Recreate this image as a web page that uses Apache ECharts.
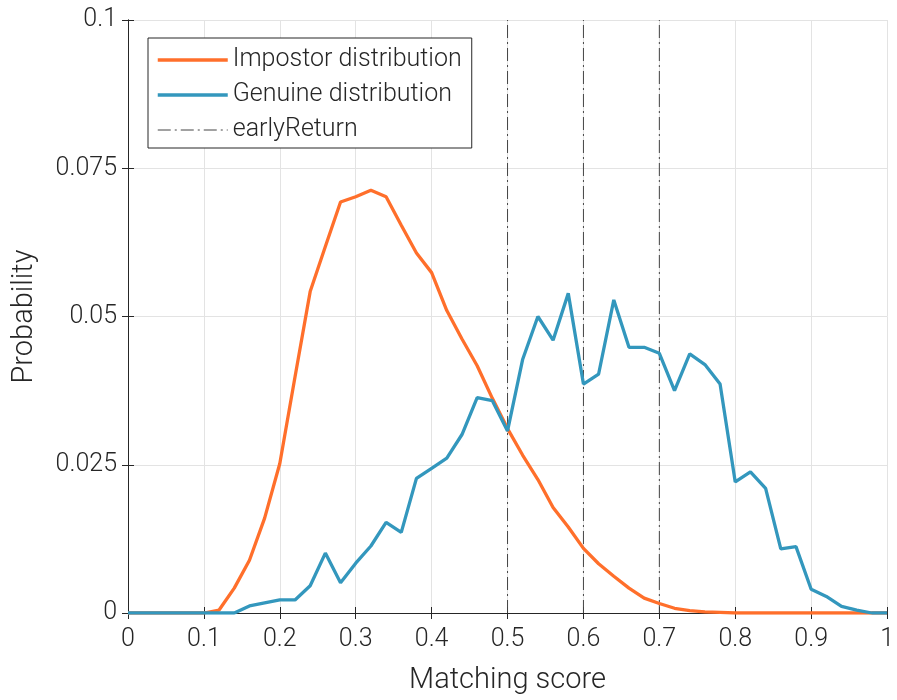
<!DOCTYPE html>
<html>
<head>
<meta charset="utf-8">
<script src="https://cdn.jsdelivr.net/npm/echarts@6/dist/echarts.min.js"></script>
<style>
  html, body { margin: 0; padding: 0; background: #fff; }
  #chart { width: 897px; height: 700px; }
</style>
</head>
<body>
<div id="chart"></div>
<script>
// Matching score bins (step 0.02)
const scores = [
  0, 0.02, 0.04, 0.06, 0.08, 0.10, 0.12, 0.14, 0.16, 0.18,
  0.20, 0.22, 0.24, 0.26, 0.28, 0.30, 0.32, 0.34, 0.36, 0.38,
  0.40, 0.42, 0.44, 0.46, 0.48, 0.50, 0.52, 0.54, 0.56, 0.58,
  0.60, 0.62, 0.64, 0.66, 0.68, 0.70, 0.72, 0.74, 0.76, 0.78,
  0.80, 0.82, 0.84, 0.86, 0.88, 0.90, 0.92, 0.94, 0.96, 0.98, 1.00
];

const impostor = [
  0, 0, 0, 0, 0, 0, 0.0005, 0.0042, 0.0089, 0.0160,
  0.0252, 0.0398, 0.0542, 0.0618, 0.0693, 0.0702, 0.0713, 0.0702, 0.0654, 0.0607,
  0.0574, 0.0510, 0.0462, 0.0417, 0.0362, 0.0311, 0.0266, 0.0225, 0.0178, 0.0145,
  0.0109, 0.0083, 0.0062, 0.0042, 0.0025, 0.0016, 0.0008, 0.0004, 0.0002, 0.0001,
  0, 0, 0, 0, 0, 0, 0, 0, 0, 0, 0
];

const genuine = [
  0, 0, 0, 0, 0, 0, 0, 0, 0.0012, 0.0017,
  0.0022, 0.0022, 0.0046, 0.0101, 0.0051, 0.0084, 0.0113, 0.0153, 0.0136, 0.0227,
  0.0244, 0.0261, 0.0301, 0.0363, 0.0358, 0.0307, 0.0428, 0.0500, 0.0460, 0.0539,
  0.0386, 0.0403, 0.0528, 0.0448, 0.0448, 0.0438, 0.0375, 0.0437, 0.0419, 0.0386,
  0.0221, 0.0238, 0.0210, 0.0108, 0.0112, 0.0040, 0.0028, 0.0011, 0.0005, 0, 0
];

// Early-return thresholds
const earlyReturn = [0.5, 0.6, 0.7];

const xTicks = [0, 0.1, 0.2, 0.3, 0.4, 0.5, 0.6, 0.7, 0.8, 0.9, 1];
const yTicks = [0, 0.025, 0.05, 0.075, 0.1];

const FONT = 'Roboto, "DejaVu Sans", sans-serif';
const INK = '#262626';
const ORANGE = '#ff6f2b';
const BLUE = '#3397bd';
const DASH_GREY = '#444';
const DASH_DOT = [13, 4, 2, 4];

const pairs = (xs, ys) => xs.map((x, i) => [x, ys[i]]);

// vertical segments separated by gaps
const thresholdData = [];
earlyReturn.forEach((t, i) => {
  if (i > 0) thresholdData.push('-');
  thresholdData.push([t, yTicks[0]], [t, yTicks[yTicks.length - 1]]);
});

const fmt = v => {
  if (v === 0 || v === 1) return String(v);
  return String(+v.toFixed(3));
};

const baseAxis = {
  min: 0,
  axisLine: { show: true, lineStyle: { color: INK, width: 1 } },
  axisTick: { show: true, inside: true, length: 6, lineStyle: { color: INK } },
  splitLine: { show: false },
};

const tickText = { fontFamily: FONT, fontSize: 25, fontWeight: 300, color: INK };
const nameText = { fontFamily: FONT, fontSize: 29, fontWeight: 300, color: INK };

const chart = echarts.init(document.getElementById('chart'), null, { renderer: 'canvas' });
chart.setOption({
  animation: false,
  backgroundColor: '#fff',
  grid: { left: 128, right: 8, top: 20, bottom: 87, containLabel: false },
  legend: {
    orient: 'vertical',
    left: 148,
    top: 38,
    padding: [9, 10, 5, 8],
    itemGap: 9,
    itemWidth: 70,
    itemHeight: 26,
    borderColor: INK,
    borderWidth: 1,
    borderRadius: 0,
    backgroundColor: '#fff',
    // hide the marker so each entry shows only its line sample
    itemStyle: { opacity: 0 },
    textStyle: { fontFamily: FONT, fontSize: 25, fontWeight: 300, color: INK, lineHeight: 26 },
    data: [
      { name: 'Impostor distribution', lineStyle: { width: 3.5, color: ORANGE } },
      { name: 'Genuine distribution', lineStyle: { width: 3.5, color: BLUE } },
      { name: 'earlyReturn', lineStyle: { width: 1, color: DASH_GREY, type: DASH_DOT } }
    ]
  },
  xAxis: [
    Object.assign({}, baseAxis, {
      type: 'value', position: 'bottom', max: 1, interval: 0.1,
      name: 'Matching score', nameLocation: 'middle', nameGap: 53,
      nameTextStyle: nameText,
      axisLabel: Object.assign({ margin: 14, formatter: fmt }, tickText),
      splitLine: { show: true, lineStyle: { color: '#e3e3e3', width: 1 } }
    }),
    Object.assign({}, baseAxis, {
      type: 'value', position: 'top', max: 1, interval: 0.1,
      axisLabel: { show: false }
    })
  ],
  yAxis: [
    Object.assign({}, baseAxis, {
      type: 'value', position: 'left', max: 0.1, interval: 0.025,
      name: 'Probability', nameLocation: 'middle', nameGap: 89,
      nameTextStyle: nameText,
      axisLabel: Object.assign({ margin: 11, formatter: fmt }, tickText),
      splitLine: { show: true, lineStyle: { color: '#e3e3e3', width: 1 } }
    }),
    Object.assign({}, baseAxis, {
      type: 'value', position: 'right', max: 0.1, interval: 0.025,
      axisLabel: { show: false }
    })
  ],
  series: [
    {
      name: 'Impostor distribution',
      type: 'line',
      data: pairs(scores, impostor),
      showSymbol: false,
      color: ORANGE,
      lineStyle: { color: ORANGE, width: 3.3 },
      z: 3
    },
    {
      name: 'Genuine distribution',
      type: 'line',
      data: pairs(scores, genuine),
      showSymbol: false,
      color: BLUE,
      lineStyle: { color: BLUE, width: 3.3 },
      z: 4
    },
    {
      name: 'earlyReturn',
      type: 'line',
      data: thresholdData,
      connectNulls: false,
      showSymbol: false,
      color: DASH_GREY,
      lineStyle: { color: DASH_GREY, width: 1, type: DASH_DOT },
      z: 2
    }
  ]
});
</script>
</body>
</html>
